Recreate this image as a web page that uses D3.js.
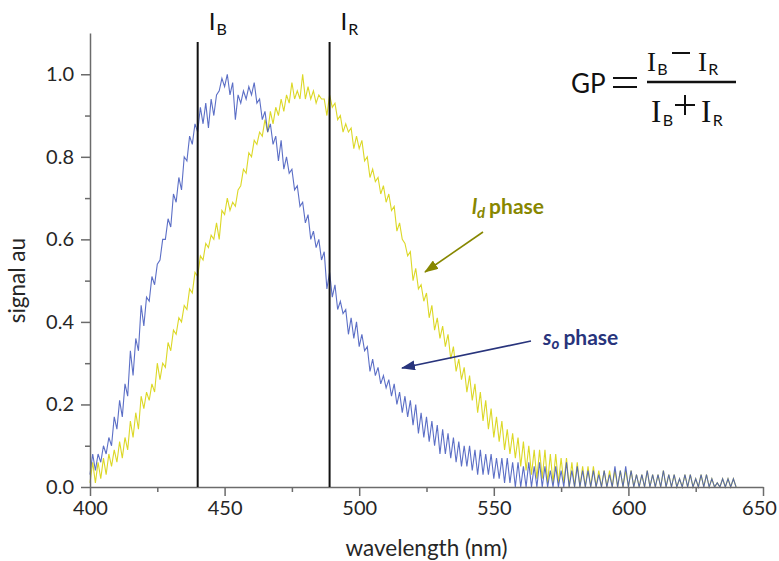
<!DOCTYPE html>
<html>
<head>
<meta charset="utf-8">
<script src="https://cdn.jsdelivr.net/npm/d3@7"></script>
<style>
  body { margin: 0; background: #fff; }
  svg text { font-family: Lato, "Open Sans", sans-serif; }
</style>
</head>
<body>
<div id="chart"></div>
<script>

// Spectrum sampled every 1 nm from 400 to 640 nm.
const wavelengths = d3.range(400, 641);

// s_o phase (blue).
const soPhase = [
  0.03,0.08,0.04,0.08,0.06,0.10,0.08,0.12,0.10,0.17,
  0.14,0.21,0.17,0.25,0.22,0.33,0.27,0.36,0.33,0.44,
  0.39,0.46,0.45,0.51,0.49,0.54,0.55,0.60,0.60,0.65,
  0.63,0.71,0.69,0.75,0.72,0.80,0.79,0.85,0.83,0.88,
  0.86,0.92,0.88,0.93,0.87,0.94,0.90,0.95,0.96,0.99,
  0.97,1.00,0.95,0.98,0.89,0.95,0.93,0.96,0.94,0.97,
  0.95,0.98,0.93,0.94,0.89,0.91,0.86,0.88,0.83,0.85,
  0.79,0.84,0.77,0.80,0.76,0.77,0.72,0.73,0.68,0.69,
  0.64,0.66,0.60,0.62,0.58,0.60,0.55,0.57,0.48,0.52,
  0.46,0.49,0.43,0.45,0.42,0.43,0.37,0.41,0.36,0.40,
  0.34,0.37,0.33,0.34,0.28,0.31,0.27,0.29,0.25,0.27,
  0.24,0.26,0.22,0.25,0.20,0.23,0.18,0.22,0.17,0.21,
  0.15,0.20,0.13,0.18,0.12,0.17,0.11,0.16,0.10,0.15,
  0.08,0.14,0.08,0.13,0.07,0.12,0.06,0.11,0.05,0.10,
  0.05,0.10,0.04,0.09,0.03,0.09,0.03,0.08,0.03,0.08,
  0.02,0.07,0.02,0.07,0.01,0.07,0.01,0.06,0.00,0.06,
  0.00,0.05,0.00,0.06,0.00,0.05,0.00,0.06,0.00,0.05,
  0.00,0.04,0.00,0.05,0.00,0.04,0.00,0.06,0.00,0.04,
  0.00,0.05,0.00,0.04,0.00,0.04,0.00,0.04,0.00,0.03,
  0.00,0.04,0.00,0.03,0.00,0.05,0.00,0.04,0.00,0.05,
  0.00,0.04,0.00,0.03,0.00,0.03,0.00,0.04,0.00,0.03,
  0.00,0.03,0.00,0.04,0.00,0.03,0.00,0.03,0.00,0.02,
  0.00,0.03,0.00,0.03,0.00,0.02,0.00,0.03,0.00,0.03,
  0.00,0.02,0.00,0.01,0.00,0.02,0.00,0.02,0.00,0.02,
  0.00
];

// l_d phase (yellow).
const ldPhase = [
  0.01,0.06,0.01,0.06,0.02,0.07,0.03,0.08,0.05,0.09,
  0.06,0.11,0.07,0.12,0.09,0.16,0.12,0.18,0.14,0.22,
  0.19,0.23,0.21,0.25,0.23,0.30,0.26,0.30,0.29,0.35,
  0.33,0.38,0.37,0.41,0.40,0.44,0.43,0.48,0.47,0.52,
  0.51,0.56,0.55,0.59,0.58,0.61,0.60,0.64,0.60,0.67,
  0.66,0.70,0.67,0.69,0.68,0.72,0.73,0.77,0.76,0.81,
  0.80,0.84,0.83,0.86,0.85,0.89,0.86,0.91,0.88,0.92,
  0.90,0.94,0.91,0.95,0.93,0.98,0.94,0.96,0.94,1.00,
  0.94,0.97,0.94,0.96,0.93,0.95,0.94,0.94,0.90,0.95,
  0.92,0.93,0.89,0.90,0.86,0.88,0.86,0.87,0.82,0.85,
  0.82,0.84,0.79,0.80,0.75,0.77,0.74,0.75,0.71,0.73,
  0.69,0.71,0.67,0.68,0.62,0.64,0.60,0.59,0.56,0.57,
  0.50,0.53,0.48,0.49,0.45,0.47,0.41,0.44,0.38,0.41,
  0.36,0.39,0.34,0.37,0.31,0.34,0.28,0.31,0.26,0.29,
  0.23,0.27,0.21,0.25,0.18,0.23,0.16,0.21,0.14,0.19,
  0.12,0.17,0.11,0.16,0.09,0.14,0.08,0.13,0.07,0.12,
  0.05,0.11,0.04,0.10,0.03,0.09,0.02,0.09,0.02,0.09,
  0.01,0.08,0.01,0.08,0.01,0.07,0.01,0.07,0.00,0.06,
  0.00,0.06,0.00,0.05,0.00,0.05,0.00,0.05,0.00,0.04,
  0.00,0.04,0.00,0.04,0.00,0.04,0.00,0.04,0.00,0.04,
  0.00,0.04,0.00,0.03,0.00,0.03,0.00,0.04,0.00,0.03,
  0.00,0.03,0.00,0.04,0.00,0.03,0.00,0.03,0.00,0.02,
  0.00,0.03,0.00,0.03,0.00,0.02,0.00,0.03,0.00,0.03,
  0.00,0.02,0.00,0.01,0.00,0.02,0.00,0.02,0.00,0.02,
  0.00
];

const xTicks      = [400, 450, 500, 550, 600, 650];
const xMinorTicks = [425, 475, 525, 575, 625];
const yTicks      = [0, 0.2, 0.4, 0.6, 0.8, 1.0];
const yMinorTicks = [0.1, 0.3, 0.5, 0.7, 0.9];

// The two integration edges, I_B and I_R.
const edgeNames = ["B", "R"];
const edgeWavelengths = [440, 489];

const width = 779, height = 561;
const margin = {top: 33, right: 16, bottom: 74, left: 90};

const svg = d3.select("#chart")
    .append("svg")
      .attr("width", width)
      .attr("height", height);

// Scales
const x = d3.scaleLinear().domain([400, 650]).range([margin.left, width - margin.right]);
const y = d3.scaleLinear().domain([0, 1.1]).range([height - margin.bottom, margin.top]);

const axisColor = "#6b6b6b";
const textColor = "#262626";

// Arrowhead markers
const defs = svg.append("defs");
function addArrow(id, color) {
    defs.append("marker")
        .attr("id", id)
        .attr("markerUnits", "userSpaceOnUse")
        .attr("viewBox", "0 0 14 10")
        .attr("refX", 13).attr("refY", 5)
        .attr("markerWidth", 14).attr("markerHeight", 10)
        .attr("orient", "auto")
      .append("path")
        .attr("d", "M0,0 L14,5 L0,10 Z")
        .attr("fill", color);
}
addArrow("arrow-ld", "#878700");
addArrow("arrow-so", "#28347c");

// Spectra
const line = d3.line()
    .x((d, i) => x(wavelengths[i]))
    .y(d => y(d));

svg.append("path")
    .attr("class", "line ld")
    .attr("d", line(ldPhase))
    .attr("fill", "none")
    .attr("stroke", "#dcd827")
    .attr("stroke-width", 1.1);

svg.append("path")
    .attr("class", "line so")
    .attr("d", line(soPhase))
    .attr("fill", "none")
    .attr("stroke", "#3f56bc")
    .attr("stroke-opacity", 0.85)
    .attr("stroke-width", 1.1);

// Axes
svg.append("g")
    .attr("class", "x axis")
    .attr("transform", "translate(0," + y(0) + ")")
    .call(d3.axisBottom(x).tickValues(xTicks).tickSize(9).tickSizeOuter(0).tickPadding(5));
svg.append("g")
    .attr("class", "x axis minor")
    .attr("transform", "translate(0," + y(0) + ")")
    .call(d3.axisBottom(x).tickValues(xMinorTicks).tickSize(5).tickFormat(""))
    .select(".domain").remove();

svg.append("g")
    .attr("class", "y axis")
    .attr("transform", "translate(" + x(400) + ",0)")
    .call(d3.axisLeft(y).tickValues(yTicks).tickSize(9).tickSizeOuter(0).tickPadding(7)
            .tickFormat(d3.format(".1f")));
svg.append("g")
    .attr("class", "y axis minor")
    .attr("transform", "translate(" + x(400) + ",0)")
    .call(d3.axisLeft(y).tickValues(yMinorTicks).tickSize(5).tickFormat(""))
    .select(".domain").remove();

svg.selectAll(".axis path, .axis line")
    .attr("stroke", axisColor)
    .attr("stroke-width", 1.5);
svg.selectAll(".axis text")
    .attr("fill", textColor)
    .style("font-size", "20px");

// Keep the last x label inside the picture.
svg.selectAll(".x.axis .tick text")
    .filter(d => d === 650)
    .attr("dx", -4);

// Axis titles
svg.append("text")
    .attr("x", x(525)).attr("y", 556)
    .attr("text-anchor", "middle")
    .attr("fill", textColor)
    .style("font-size", "22.5px")
    .text("wavelength (nm)");

svg.append("text")
    .attr("transform", "translate(25," + y(0.5) + ") rotate(-90)")
    .attr("text-anchor", "middle")
    .attr("fill", textColor)
    .style("font-size", "22.5px")
    .text("signal au");

// Vertical lines at I_B and I_R with their labels
edgeWavelengths.forEach(function(wl, i) {
    svg.append("line")
        .attr("x1", x(wl)).attr("x2", x(wl))
        .attr("y1", 42).attr("y2", y(0))
        .attr("stroke", "#111")
        .attr("stroke-width", 2);
    let t = svg.append("text")
        .attr("x", x(wl) + 11).attr("y", 30)
        .attr("fill", "#111")
        .style("font-size", "24px");
    t.append("tspan").text("I");
    t.append("tspan").attr("dy", 5).attr("dx", 1).style("font-size", "16px").text(edgeNames[i]);
});

// Annotations
let ld = svg.append("text")
    .attr("x", 472).attr("y", 214)
    .attr("fill", "#878700")
    .style("font-size", "21px")
    .style("font-weight", "bold");
ld.append("tspan").style("font-style", "italic").text("l");
ld.append("tspan").style("font-style", "italic").style("font-size", "15px").attr("dy", 4).text("d");
ld.append("tspan").attr("dy", -4).attr("dx", 4).text("phase");

svg.append("line")
    .attr("x1", 483).attr("y1", 232)
    .attr("x2", 425).attr("y2", 272)
    .attr("stroke", "#878700")
    .attr("stroke-width", 1.6)
    .attr("marker-end", "url(#arrow-ld)");

let so = svg.append("text")
    .attr("x", 543).attr("y", 345)
    .attr("fill", "#28347c")
    .style("font-size", "21px")
    .style("font-weight", "bold");
so.append("tspan").style("font-style", "italic").text("s");
so.append("tspan").style("font-style", "italic").style("font-size", "15px").attr("dy", 4).text("o");
so.append("tspan").attr("dy", -4).attr("dx", 4).text("phase");

svg.append("line")
    .attr("x1", 531).attr("y1", 341)
    .attr("x2", 402).attr("y2", 368)
    .attr("stroke", "#28347c")
    .attr("stroke-width", 1.6)
    .attr("marker-end", "url(#arrow-so)");

// GP formula
const formula = svg.append("g").attr("class", "formula").attr("fill", "#111");
formula.append("text")
    .attr("x", 571).attr("y", 93)
    .style("font-size", "26px")
    .text("GP");
formula.append("line")   // "=" sign
    .attr("x1", 613).attr("x2", 637)
    .attr("y1", 78).attr("y2", 78)
    .attr("stroke", "#111").attr("stroke-width", 2);
formula.append("line")
    .attr("x1", 613).attr("x2", 637)
    .attr("y1", 87).attr("y2", 87)
    .attr("stroke", "#111").attr("stroke-width", 2);
formula.append("line")   // fraction bar
    .attr("x1", 647).attr("x2", 736)
    .attr("y1", 82).attr("y2", 82)
    .attr("stroke", "#111")
    .attr("stroke-width", 2.4);

function fracTerm(xPos, yPos, sub, size) {
    formula.append("text")
        .attr("x", xPos).attr("y", yPos)
        .style("font-family", "'Liberation Serif', 'DejaVu Serif', serif")
        .style("font-size", size + "px")
        .text("I");
    formula.append("text")
        .attr("x", xPos + size * 0.38).attr("y", yPos + 4)
        .style("font-size", "16px")
        .text(sub);
}
fracTerm(647, 71, "B", 27);
fracTerm(698, 71, "R", 27);
fracTerm(651, 122, "B", 31);
fracTerm(701, 122, "R", 31);

formula.append("line")   // minus sign
    .attr("x1", 672).attr("x2", 690)
    .attr("y1", 53).attr("y2", 53)
    .attr("stroke", "#111").attr("stroke-width", 2);
formula.append("line")   // plus sign
    .attr("x1", 675).attr("x2", 695)
    .attr("y1", 105).attr("y2", 105)
    .attr("stroke", "#111").attr("stroke-width", 2);
formula.append("line")
    .attr("x1", 685).attr("x2", 685)
    .attr("y1", 95).attr("y2", 115)
    .attr("stroke", "#111").attr("stroke-width", 2);

</script>
</body>
</html>
